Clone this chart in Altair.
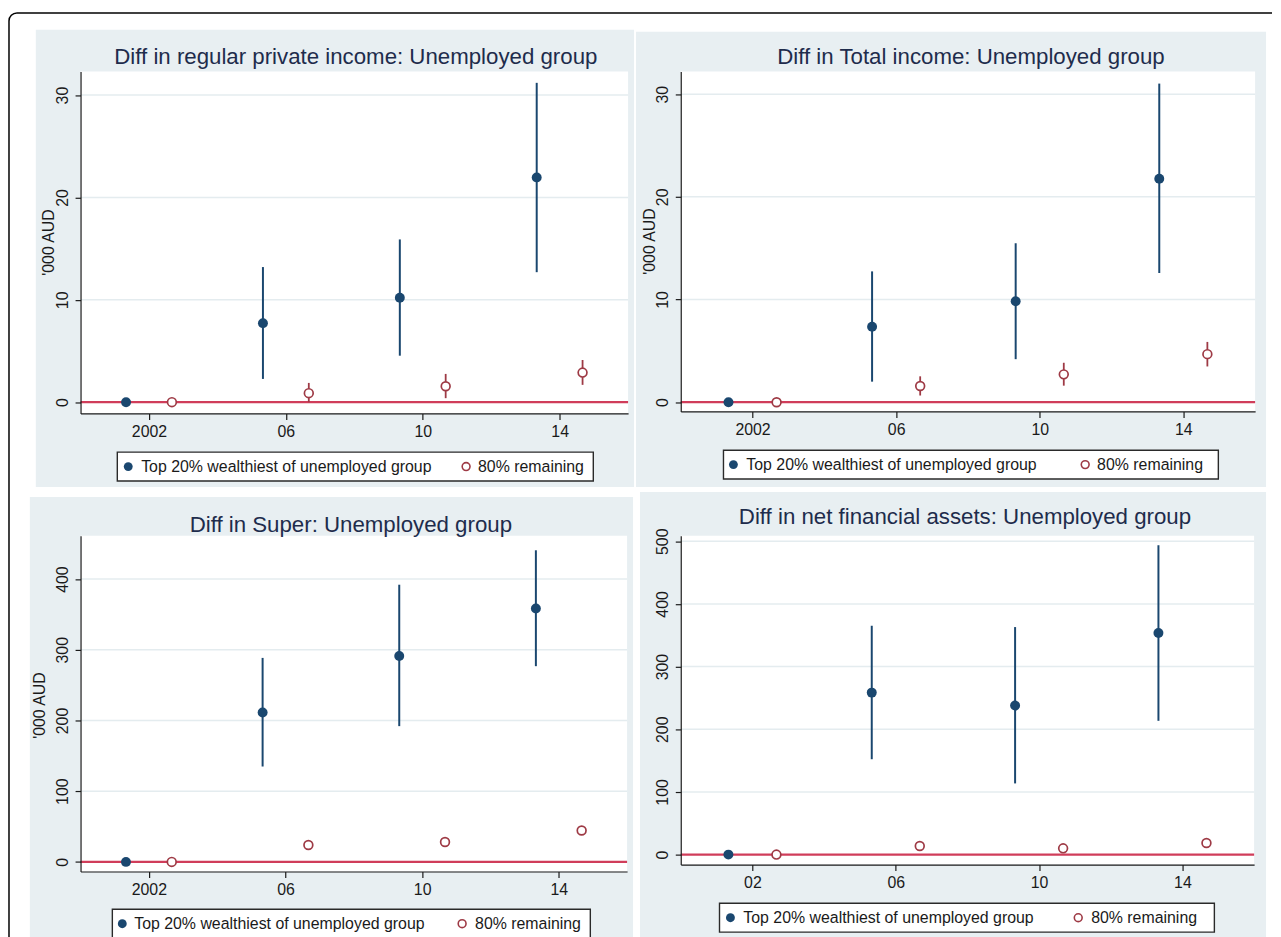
import altair as alt
import pandas as pd

FONT = "Liberation Sans"
BG = "#E8EFF2"
NAVY = "#1A476F"
MAROON = "#9E3A45"
ZERO = "#D03D5A"
TITLE_C = "#1E2C4C"
GRID = "#E4ECEF"
INK = "#1a1a1a"

# ---------------- data ----------------
x_blue = [2001.33, 2005.33, 2009.33, 2013.33]
x_red = [2002.67, 2006.67, 2010.67, 2014.67]
x_ticks = [2002, 2006, 2010, 2014]
x_labels_a = ["2002", "06", "10", "14"]
x_labels_b = ["02", "06", "10", "14"]

titles = [
    "Diff in regular private income: Unemployed group",
    "Diff in Total income: Unemployed group",
    "Diff in Super: Unemployed group",
    "Diff in net financial assets: Unemployed group",
]
legend_labels = ["Top 20% wealthiest of unemployed group", "80% remaining"]
y_title = "'000 AUD"

# panel 1: regular private income
reg_top = [0, 7.72, 10.2, 21.96]
reg_top_lo = [0, 2.27, 4.54, 12.7]
reg_top_hi = [0, 13.2, 15.9, 31.2]
reg_rem = [0, 0.88, 1.56, 2.89]
reg_rem_lo = [0, 0.0, 0.39, 1.69]
reg_rem_hi = [0, 1.88, 2.76, 4.12]
# panel 2: total income
tot_top = [0, 7.35, 9.84, 21.77]
tot_top_lo = [0, 2.0, 4.19, 12.58]
tot_top_hi = [0, 12.74, 15.48, 31.03]
tot_rem = [0, 1.58, 2.71, 4.68]
tot_rem_lo = [0, 0.65, 1.61, 3.48]
tot_rem_hi = [0, 2.52, 3.84, 5.87]
# panel 3: super
sup_top = [0, 211.2, 291.3, 358.3]
sup_top_lo = [0, 134.9, 192.0, 276.8]
sup_top_hi = [0, 288.5, 392.0, 440.7]
sup_rem = [0, 23.9, 28.1, 44.5]
sup_rem_lo = [0, 18.7, 22.5, 38.9]
sup_rem_hi = [0, 28.6, 32.8, 50.1]
# panel 4: net financial assets
nfa_top = [0, 258.5, 237.8, 353.6]
nfa_top_lo = [0, 152.2, 113.6, 213.5]
nfa_top_hi = [0, 365.2, 363.1, 493.7]
nfa_rem = [0, 13.7, 10.0, 18.5]
nfa_rem_lo = [0, 8.5, 4.8, 12.7]
nfa_rem_hi = [0, 19.0, 15.3, 24.3]

y_ticks_income = [0, 10, 20, 30]
y_ticks_super = [0, 100, 200, 300, 400]
y_ticks_nfa = [0, 100, 200, 300, 400, 500]


def label_expr(values, labels):
    parts = [f"datum.value == {v} ? '{l}'" for v, l in zip(values, labels)]
    return " : ".join(parts) + " : ''"


ONE = alt.Data(values=[{"k": 0}])


def panel(cfg):
    ox, oy = cfg["origin"]
    w, h = cfg["w"], cfg["h"]

    def rx(px):
        return px - ox

    def ry(py):
        return py - oy

    xs = alt.Scale(domain=[2000, 2016], nice=False, zero=False)
    ys = alt.Scale(domain=cfg["ydomain"], nice=False, zero=False)
    xaxis = alt.Axis(
        values=x_ticks, labelExpr=label_expr(x_ticks, cfg["xlabels"]), title=None,
        grid=False, domainColor=INK, domainWidth=1.2, tickColor=INK, tickWidth=1.2,
        tickSize=6, labelFontSize=16, labelFont=FONT, labelColor=INK,
        labelPadding=4, labelFlush=False, zindex=1)
    yaxis = alt.Axis(
        values=cfg["yticks"], title=None, grid=False, domainColor=INK, domainWidth=1.2,
        tickColor=INK, tickWidth=1.2, tickSize=5.5, labelFontSize=16, labelFont=FONT,
        labelColor=INK, labelAngle=270, labelAlign="center", labelBaseline="alphabetic",
        labelPadding=8, labelFlush=False, labelOverlap=False, format="d", zindex=1)

    df_top = pd.DataFrame({"x": x_blue, "y": cfg["top"], "lo": cfg["top_lo"], "hi": cfg["top_hi"]})
    df_rem = pd.DataFrame({"x": x_red, "y": cfg["rem"], "lo": cfg["rem_lo"], "hi": cfg["rem_hi"]})
    df_grid = pd.DataFrame({"v": [t for t in cfg["yticks"] if t != 0]})
    df_zero = pd.DataFrame({"v": [0]})

    bx0, bx1, by0, by1 = cfg["bg"]
    layers = [
        alt.Chart(ONE).mark_rect(color=BG).encode(
            x=alt.value(rx(bx0)), x2=alt.value(rx(bx1)),
            y=alt.value(ry(by0)), y2=alt.value(ry(by1))),
        alt.Chart(ONE).mark_rect(color="white").encode(
            x=alt.value(0), x2=alt.value(w), y=alt.value(0), y2=alt.value(h)),
        alt.Chart(df_grid).mark_rule(color=GRID, strokeWidth=1.5).encode(
            y=alt.Y("v:Q", scale=ys, axis=yaxis)),
        alt.Chart(df_zero).mark_rule(color=ZERO, strokeWidth=2.2).encode(
            y=alt.Y("v:Q", scale=ys, axis=yaxis)),
        alt.Chart(df_top).mark_rule(color=NAVY, strokeWidth=2).encode(
            x=alt.X("x:Q", scale=xs, axis=xaxis),
            y=alt.Y("lo:Q", scale=ys, axis=yaxis), y2="hi:Q"),
        alt.Chart(df_rem).mark_rule(color=MAROON, strokeWidth=1.8).encode(
            x=alt.X("x:Q", scale=xs, axis=xaxis),
            y=alt.Y("lo:Q", scale=ys, axis=yaxis), y2="hi:Q"),
        alt.Chart(df_top).mark_circle(color=NAVY, size=100, opacity=1).encode(
            x=alt.X("x:Q", scale=xs, axis=xaxis),
            y=alt.Y("y:Q", scale=ys, axis=yaxis)),
        alt.Chart(df_rem).mark_point(shape="circle", filled=True, fill="white",
                                     stroke=MAROON, strokeWidth=1.7, size=78, opacity=1).encode(
            x=alt.X("x:Q", scale=xs, axis=xaxis),
            y=alt.Y("y:Q", scale=ys, axis=yaxis)),
        alt.Chart(ONE).mark_text(text=cfg["title"], font=FONT, fontSize=22.4, color=TITLE_C,
                                 align="center", baseline="middle").encode(
            x=alt.value(rx(cfg["title_pos"][0])), y=alt.value(ry(cfg["title_pos"][1]))),
    ]
    if cfg.get("ytitle_pos"):
        layers.append(
            alt.Chart(ONE).mark_text(text=y_title, font=FONT, fontSize=16, color=INK,
                                     align="center", baseline="middle", angle=270).encode(
                x=alt.value(rx(cfg["ytitle_pos"][0])), y=alt.value(ry(cfg["ytitle_pos"][1]))))
    lx0, lx1, ly0, ly1, bcx, t1x, rcx, t2x = cfg["legend"]
    lcy = (ly0 + ly1) / 2
    layers += [
        alt.Chart(ONE).mark_rect(fill="white", stroke="#2a2a2a", strokeWidth=1.4).encode(
            x=alt.value(rx(lx0)), x2=alt.value(rx(lx1)),
            y=alt.value(ry(ly0)), y2=alt.value(ry(ly1))),
        alt.Chart(ONE).mark_circle(color=NAVY, size=80, opacity=1).encode(
            x=alt.value(rx(bcx)), y=alt.value(ry(lcy))),
        alt.Chart(ONE).mark_point(shape="circle", filled=True, fill="white", stroke=MAROON,
                                  strokeWidth=1.6, size=62, opacity=1).encode(
            x=alt.value(rx(rcx)), y=alt.value(ry(lcy))),
        alt.Chart(ONE).mark_text(text=legend_labels[0], font=FONT, fontSize=16, color=INK,
                                 align="left", baseline="middle").encode(
            x=alt.value(rx(t1x)), y=alt.value(ry(lcy))),
        alt.Chart(ONE).mark_text(text=legend_labels[1], font=FONT, fontSize=16, color=INK,
                                 align="left", baseline="middle").encode(
            x=alt.value(rx(t2x)), y=alt.value(ry(lcy))),
    ]
    if cfg.get("border"):
        layers += [
            alt.Chart(ONE).mark_rule(color="black", strokeWidth=1.5).encode(
                x=alt.value(rx(17)), x2=alt.value(rx(1280)), y=alt.value(ry(10))),
            alt.Chart(ONE).mark_rule(color="black", strokeWidth=1.5).encode(
                x=alt.value(rx(9)), y=alt.value(ry(18)), y2=alt.value(ry(950))),
            alt.Chart(ONE).mark_arc(color="black", innerRadius=7.25, outerRadius=8.75,
                                    theta=4.712389, theta2=6.283185).encode(
                x=alt.value(rx(17)), y=alt.value(ry(18))),
        ]
    return alt.layer(*layers).properties(width=w, height=h)


p1 = panel(dict(origin=(81, 69), w=551, h=344, ydomain=[-1.1, 32.3], yticks=y_ticks_income,
                xlabels=x_labels_a, top=reg_top, top_lo=reg_top_lo, top_hi=reg_top_hi,
                rem=reg_rem, rem_lo=reg_rem_lo, rem_hi=reg_rem_hi, title=titles[0],
                bg=(36, 638, 27, 487), title_pos=(358, 54), ytitle_pos=(49, 241),
                legend=(118, 597, 452, 481, 129, 142, 469, 481), border=True))
p2 = panel(dict(origin=(685, 69), w=578, h=342, ydomain=[-0.9, 32.2], yticks=y_ticks_income,
                xlabels=x_labels_a, top=tot_top, top_lo=tot_top_lo, top_hi=tot_top_hi,
                rem=tot_rem, rem_lo=tot_rem_lo, rem_hi=tot_rem_hi, title=titles[1],
                bg=(640, 1274, 29, 487), title_pos=(977, 54), ytitle_pos=(654, 240),
                legend=(728, 1226, 450, 479, 738, 751, 1092, 1104)))
p3 = panel(dict(origin=(81, 536), w=550, h=338, ydomain=[-13.6, 461.4], yticks=y_ticks_super,
                xlabels=x_labels_a, top=sup_top, top_lo=sup_top_lo, top_hi=sup_top_hi,
                rem=sup_rem, rem_lo=sup_rem_lo, rem_hi=sup_rem_hi, title=titles[2],
                bg=(30, 637, 497, 950), title_pos=(353, 525), ytitle_pos=(40.5, 707),
                legend=(113, 594, 912, 941, 123, 135, 465, 478)))
p4 = panel(dict(origin=(685, 536), w=577, h=331, ydomain=[-15.9, 509], yticks=y_ticks_nfa,
                xlabels=x_labels_b, top=nfa_top, top_lo=nfa_top_lo, top_hi=nfa_top_hi,
                rem=nfa_rem, rem_lo=nfa_rem_lo, rem_hi=nfa_rem_hi, title=titles[3],
                bg=(644, 1274, 492, 950), title_pos=(971, 517), ytitle_pos=None,
                legend=(724, 1222, 906, 935, 735, 748, 1085, 1098)))

chart = alt.concat(
    p1, p2, p3, p4, columns=2,
    spacing=alt.RowColnumber(row=123, column=53),
    bounds="flush",
).properties(
    padding={"left": 0, "top": 1, "right": 0, "bottom": 0}
).configure(background="white", font=FONT).configure_view(stroke=None)

chart.save("out.html", embed_options={"renderer": "svg", "actions": False})
